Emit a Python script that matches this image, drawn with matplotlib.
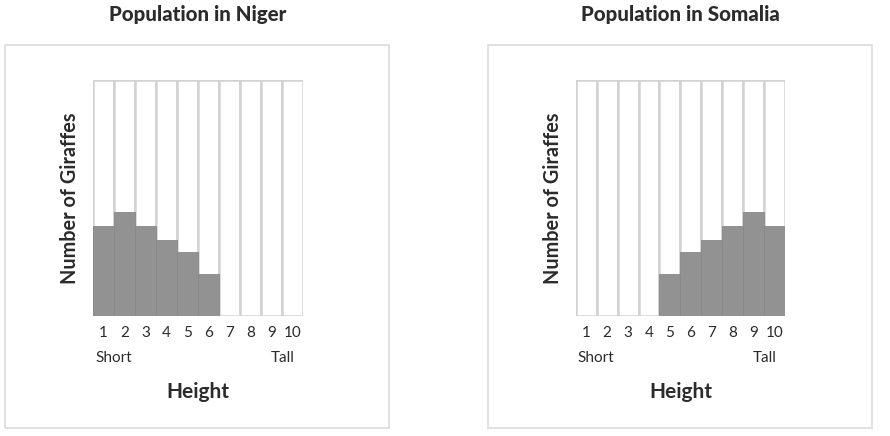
import matplotlib
matplotlib.use('Agg')
import matplotlib.pyplot as plt
from matplotlib.patches import Rectangle

# data (relative giraffe counts per height class)
heights = [1, 2, 3, 4, 5, 6, 7, 8, 9, 10]
niger = [38, 44, 38, 32, 27, 18, 0, 0, 0, 0]
somalia = [0, 0, 0, 0, 18, 27, 32, 38, 44, 38]
titles = ['Population in Niger', 'Population in Somalia']
ymax = 100

fillColor = '#929292'
lineColor = '#d2d2d2'
textColor = '#2b2b2b'

plt.rcParams['font.family'] = ['Lato', 'DejaVu Sans']

fig = plt.figure(figsize=(8.9, 4.36), dpi=100)

#panel boxes and axes positions in figure fractions
boxes = [(0.0056, 0.018, 0.4315, 0.879), (0.548, 0.018, 0.4315, 0.879)]
axesPos = [(0.1045, 0.2752, 0.236, 0.5413), (0.647, 0.2752, 0.235, 0.5413)]
titleX = [0.222, 0.765]

for k, values in enumerate([niger, somalia]):
    bx, by, bw, bh = boxes[k]
    fig.patches.append(Rectangle((bx, by), bw, bh, transform=fig.transFigure,
                                 facecolor='white', edgecolor='#dcdcdc', linewidth=1.2,
                                 zorder=-5))
    fig.text(titleX[k], 0.967, titles[k], ha='center', va='center',
             fontsize=14.8, fontweight='black', color=textColor)

    ax = fig.add_axes(axesPos[k])
    ax.patch.set_alpha(0)
    ax.bar(heights, [ymax] * len(heights), width=1.0, color='white',
           edgecolor=lineColor, linewidth=1.8)
    ax.bar(heights, values, width=1.0, color=fillColor,
           edgecolor='#888888', linewidth=0.6)
    ax.set_xlim(0.5, 10.5)
    ax.set_ylim(0, ymax)
    for s in ax.spines.values():
        s.set_visible(False)
    ax.set_yticks([])
    ax.set_xticks(heights)
    ax.set_xticklabels([str(h) for h in heights], fontsize=11, color=textColor)
    ax.tick_params(axis='x', length=0, pad=7)

    ax.text(0.01, -0.178, 'Short', transform=ax.transAxes, ha='left', va='center',
            fontsize=11, color=textColor)
    ax.text(0.96, -0.178, 'Tall', transform=ax.transAxes, ha='right', va='center',
            fontsize=11, color=textColor)
    ax.text(0.5, -0.322, 'Height', transform=ax.transAxes, ha='center', va='center',
            fontsize=15, fontweight='bold', color=textColor)
    ax.text(-0.11, 0.5, 'Number of Giraffes', transform=ax.transAxes, rotation=90,
            ha='center', va='center', fontsize=14.3, fontweight='bold', color=textColor)

fig.savefig('out.png', dpi=100)
